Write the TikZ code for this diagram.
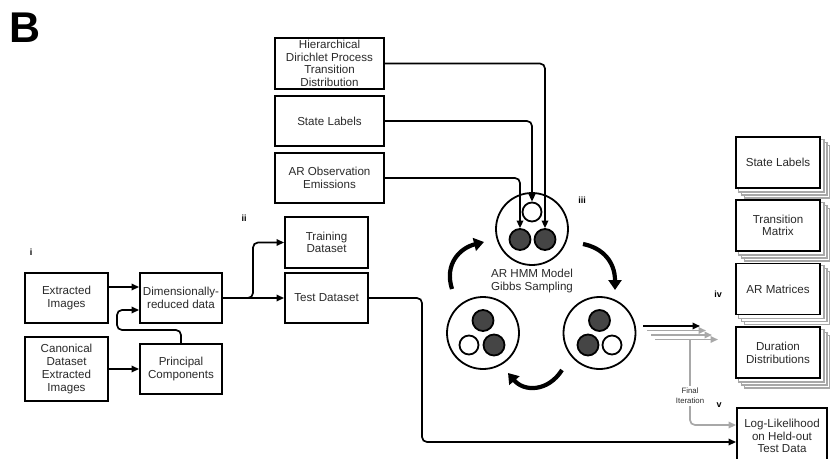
\documentclass[tikz,border=0pt]{standalone}
\usepackage{fontspec}
\setmainfont{Liberation Sans}
\usetikzlibrary{arrows.meta,backgrounds,calc}
\definecolor{txt}{HTML}{2A2A2A}
\definecolor{darkfill}{HTML}{454545}
\definecolor{shgray}{HTML}{A8A8A8}
\newcommand\boxfont{\fontsize{11.6}{12.7}\selectfont}
\begin{document}
\begin{tikzpicture}[x=1pt,y=-1pt,
  box/.style={draw,line width=1.9pt,fill=white,align=center,text=txt,font=\boxfont,inner sep=0.5pt},
  conn/.style={line width=1.7pt,-{Triangle[length=7.5pt,width=6.5pt]},rounded corners=5pt},
  gconn/.style={draw=shgray,line width=1.7pt,-{Triangle[length=7.5pt,width=6.5pt]},rounded corners=5pt},
  gline/.style={draw=shgray,line width=1.7pt},
  lab/.style={font=\fontsize{9}{9}\selectfont\bfseries,text=black,inner sep=0pt},
  bigc/.style={circle,draw,line width=1.8pt,minimum size=72pt,inner sep=0pt},
  dk/.style={circle,draw,line width=1.8pt,fill=darkfill,minimum size=21pt,inner sep=0pt},
  wt/.style={circle,draw,line width=1.8pt,fill=white,minimum size=19pt,inner sep=0pt},
  thick arrow/.style={line width=4.2pt,-{Triangle[length=10pt,width=13pt]}},
  shadowrect/.style={draw=shgray,line width=1.1pt,fill=white}]
\useasboundingbox (0,0) rectangle (830,458);

% title
\node[font=\fontsize{43}{43}\selectfont\bfseries,anchor=base west,inner sep=0pt] (title) at (9,42.5) {B};

% section labels
\node[lab] (li) at (31,252) {i};
\node[lab] (lii) at (244,218) {ii};
\node[lab] (liii) at (582,200) {iii};
\node[lab] (liv) at (718,294) {iv};
\node[lab] (lv) at (719,405) {v};

% left boxes
\node[box,minimum width=83pt,minimum height=50pt] (ext) at (66.5,298) {Extracted\\Images};
\node[box,minimum width=82pt,minimum height=50pt] (dim) at (181,298) {Dimensionally-\\reduced data};
\node[box,minimum width=83pt,minimum height=64pt] (can) at (66.5,369) {Canonical\\Dataset\\Extracted\\Images};
\node[box,minimum width=82pt,minimum height=50pt] (pc) at (181,369) {Principal\\Components};
\node[box,minimum width=83pt,minimum height=51pt] (train) at (326.5,242.5) {Training\\Dataset};
\node[box,minimum width=83pt,minimum height=50pt] (test) at (326.5,298) {Test Dataset};

% top boxes
\node[box,minimum width=109pt,minimum height=51pt,inner sep=0pt] (hdp) at (329.5,63.5) {Hierarchical\\Dirichlet Process\\Transition\\Distribution};
\node[box,minimum width=109pt,minimum height=50pt] (sl) at (329.5,121) {State Labels};
\node[box,minimum width=109pt,minimum height=50pt] (aro) at (329.5,178) {AR Observation\\Emissions};

% circle groups
\node[bigc] (ctop) at (532,229) {};
\node[wt] (w) at (532,212) {};
\node[dk] (dL) at (520,239.5) {};
\node[dk] (dR) at (545,239.5) {};
\node[align=center,text=txt,font=\boxfont,inner sep=0pt] (hmm) at (532,281) {AR HMM Model\\Gibbs Sampling};

\node[bigc] (cbl) at (483,333) {};
\node[dk] (bl1) at (483,320.5) {};
\node[wt] (bl2) at (469,345) {};
\node[dk] (bl3) at (494,345) {};

\node[bigc] (cbr) at (599.5,333) {};
\node[dk] (br1) at (599.5,320.5) {};
\node[dk] (br2) at (588,345) {};
\node[wt] (br3) at (612,345) {};

% cycle arrows
\draw[thick arrow] (452,289) .. controls (444,264) and (460,248) .. (484,242);
\draw[thick arrow] (583,244) .. controls (603,248) and (615,262) .. (615,290);
\draw[thick arrow] (562,370) .. controls (548,392) and (524,392) .. (508,373);

% right stacked boxes
\node[box,minimum width=84pt,minimum height=51pt] (rsl) at (778,162.5) {State Labels};
\node[box,minimum width=84pt,minimum height=51pt] (rtm) at (778,225.5) {Transition\\Matrix};
\node[box,minimum width=84pt,minimum height=51pt] (rar) at (778,289) {AR Matrices};
\node[box,minimum width=84pt,minimum height=51pt] (rdd) at (778,352.5) {Duration\\Distributions};
\node[box,minimum width=90pt,minimum height=56pt] (ll) at (782,436) {Log-Likelihood\\on Held-out\\Test Data};

\begin{pgfonlayer}{background}
\foreach \b in {rsl,rtm,rar,rdd}{
  \foreach \o in {9,6,3}{
    \draw[shadowrect] ($(\b.north west)+(\o,\o)$) rectangle ($(\b.south east)+(\o,\o)$);
  }
}
\end{pgfonlayer}

% connectors left part
\draw[conn] ([yshift=11pt]ext.east) -- ([yshift=11pt]dim.west);
\draw[conn] (can.east |- pc.west) -- (pc.west);
\draw[conn] (pc.north) |- (117,330) |- ([yshift=-12pt]dim.west);
\draw[conn] (dim.east) -- (253,298) -- (253,242.5) -- (train.west);
\draw[conn] (dim.east) -- (test.west);
\draw[conn] (test.east) -- (422,298) -- (422,442) -- (ll.west |- 0,442);

% connectors top
\draw[conn] (hdp.east) -| (dR.north);
\draw[conn] (sl.east) -| (w.north);
\draw[conn] (aro.east) -| (dL.north);

% iteration arrows
\foreach \i in {3,2,1}{
  \coordinate (gs\i) at ({643+4*\i},{326+4.5*\i});
  \coordinate (ge\i) at ({700+6*\i},{326+4.5*\i});
  \draw[gconn] (gs\i) -- (ge\i);
}
\coordinate (bs) at (643,326);
\coordinate (be) at (700,326);
\draw[conn] (bs) -- (be);

\node[align=center,text=txt,font=\fontsize{7.8}{10}\selectfont,inner sep=2pt] (fin) at (690,396) {Final\\Iteration};
\coordinate (gv) at (690,339.5);
\draw[gline] (gv) -- (fin.north);
\draw[gconn] (fin.south) |- (ll.west |- 0,425);
\end{tikzpicture}
\end{document}
